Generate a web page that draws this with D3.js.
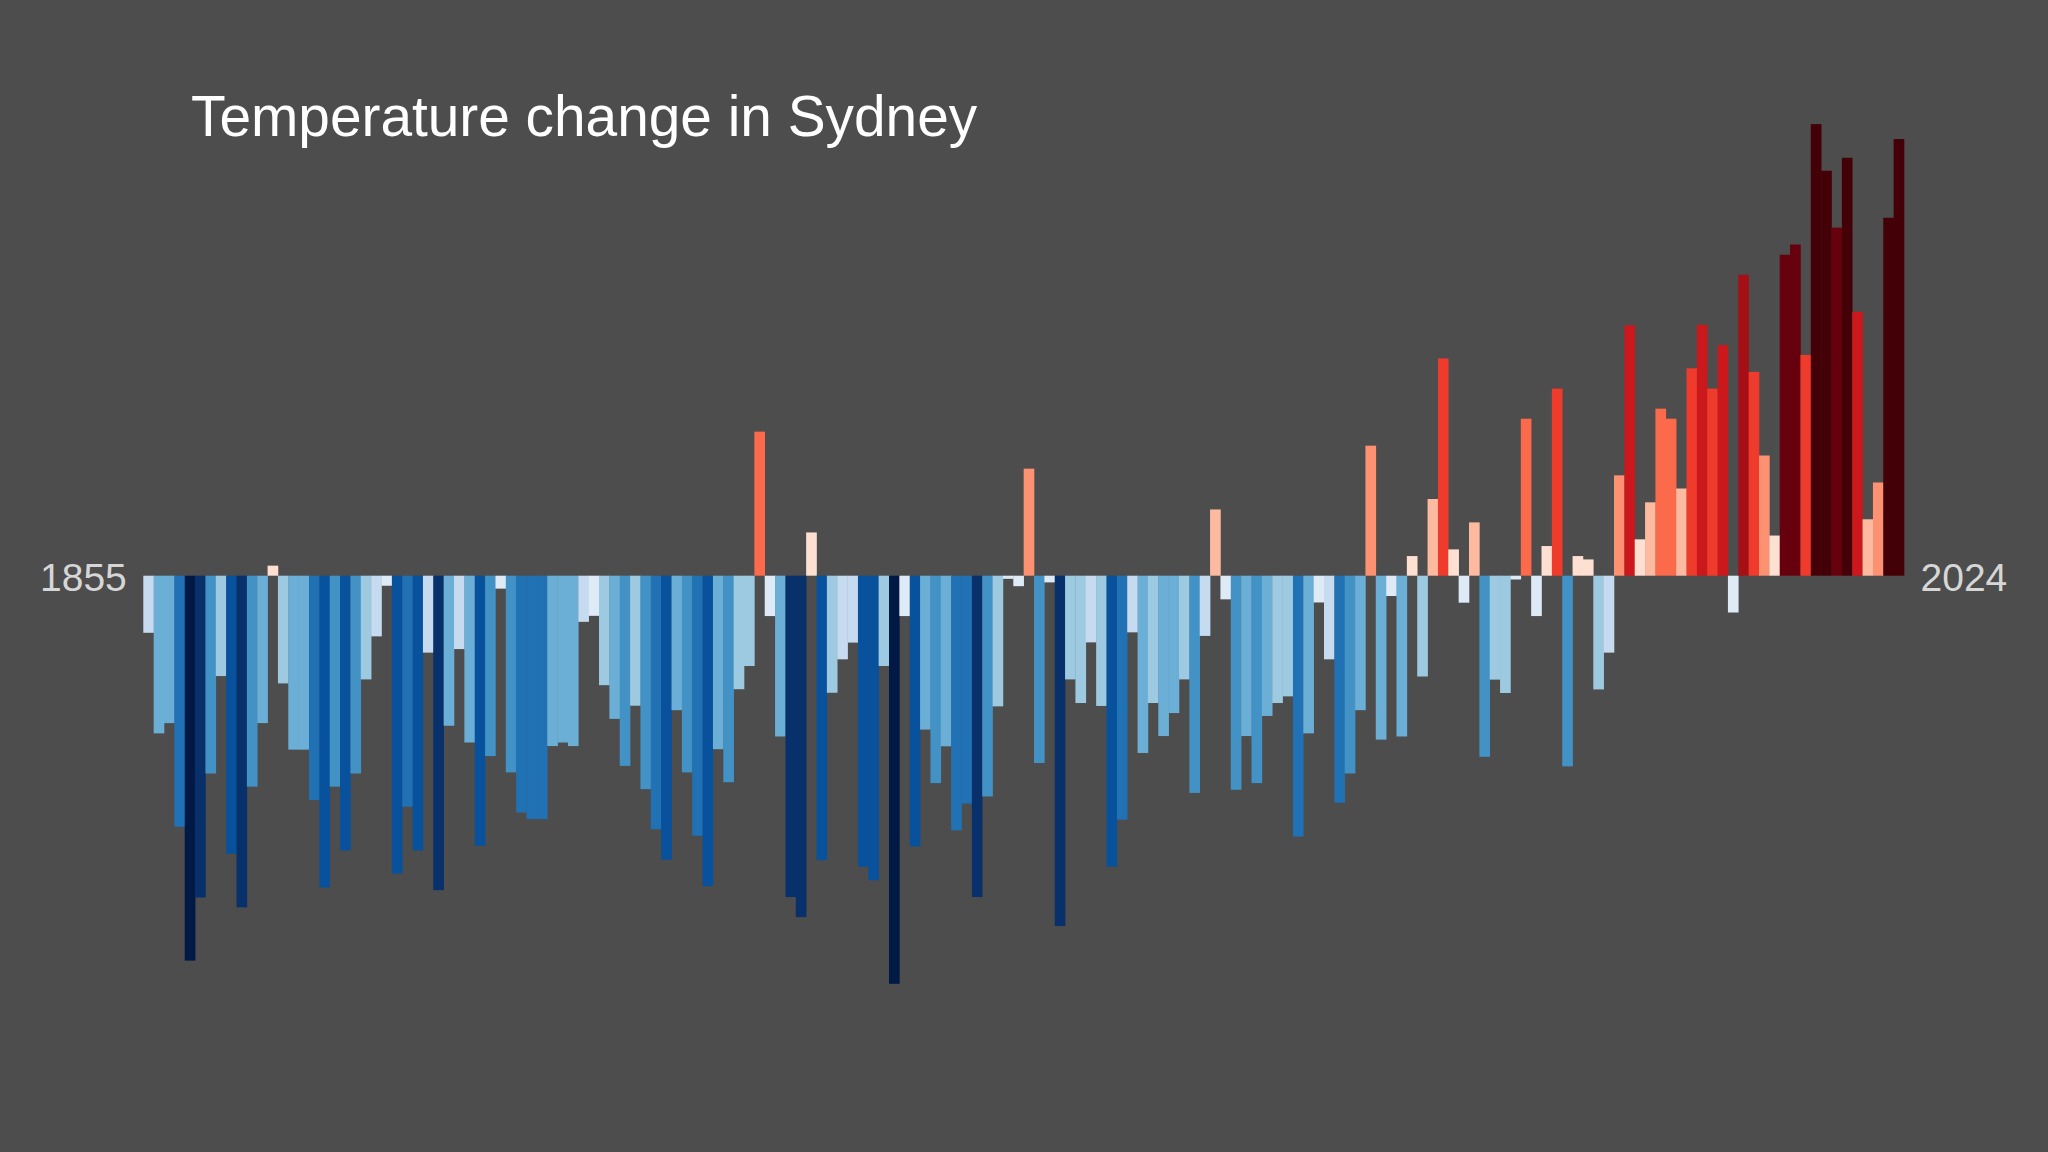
<!DOCTYPE html>
<html>
<head>
<meta charset="utf-8">
<script src="https://cdn.jsdelivr.net/npm/d3@7"></script>
<style>
  html, body { margin: 0; padding: 0; background: #4d4d4d; }
  svg { display: block; }
</style>
</head>
<body>
<svg id="chart" width="2048" height="1152"></svg>
<script>
// ---- data ----
const title = "Temperature change in Sydney";
const firstYear = 1855;
const lastYear = 2024;
// annual temperature anomaly (°C), 1855..2024
const anomalies = [
  -0.256, -0.707, -0.661, -1.126, -1.726, -1.443, -0.887, -0.450, -1.247, -1.487,
  -0.946, -0.661,  0.045, -0.483, -0.780, -0.780, -1.006, -1.398, -0.946, -1.232,
  -0.887, -0.465, -0.272, -0.045, -1.336, -1.036, -1.232, -0.345, -1.410, -0.673,
  -0.329, -0.748, -1.211, -0.809, -0.058, -0.882, -1.062, -1.091, -1.091, -0.764,
  -0.748, -0.764, -0.207, -0.180, -0.491, -0.642, -0.853, -0.583, -0.957, -1.137,
  -1.273, -0.603, -0.882, -1.166, -1.392, -0.778, -0.926, -0.509, -0.405,  0.646,
  -0.181, -0.721, -1.441, -1.531,  0.194, -1.276, -0.525, -0.375, -0.300, -1.305,
  -1.366, -0.405, -1.830, -0.181, -1.214, -0.690, -0.930, -0.765, -1.142, -1.022,
  -1.441, -0.990, -0.586, -0.014, -0.047,  0.480, -0.840, -0.030, -1.571, -0.465,
  -0.571, -0.299, -0.584, -1.305, -1.094, -0.254, -0.795, -0.571, -0.719, -0.616,
  -0.465, -0.974, -0.270,  0.297, -0.106, -0.960, -0.719, -0.930, -0.629, -0.571,
  -0.541, -1.170, -0.707, -0.120, -0.375, -1.018, -0.887, -0.603,  0.583, -0.735,
  -0.091, -0.721,  0.088, -0.452,  0.344,  0.974,  0.118, -0.121,  0.239, -0.812,
  -0.466, -0.526, -0.017,  0.704, -0.181,  0.133,  0.839, -0.855,  0.088,  0.073,
  -0.510, -0.345,  0.450,  1.123,  0.163,  0.329,  0.749,  0.704,  0.391,  0.930,
   1.125,  0.839,  1.034, -0.165,  1.349,  0.914,  0.539,  0.180,  1.439,  1.485,
   0.990,  2.025,  1.816,  1.561,  1.874,  1.183,  0.253,  0.418,  1.605,  1.958
];
const years = d3.range(firstYear, lastYear + 1);
const colorThresholds = [-1.6, -1.4, -1.2, -1.0, -0.8, -0.6, -0.4, -0.2, 0,
                          0.2, 0.4, 0.6, 0.8, 1.0, 1.2, 1.4, 1.6];
const stripeColors = [
  "#011945", "#08306b", "#08519c", "#2171b5", "#4292c6", "#6baed6", "#9ecae1", "#c6dbef", "#deebf7",
  "#fee0d2", "#fcbba1", "#fc9272", "#fb6a4a", "#ef3b2c", "#cb181d", "#a50f15", "#67000d", "#430007"
];

// ---- chart ----
const svg = d3.select("#chart");
svg.append("rect").attr("width", 2048).attr("height", 1152).attr("fill", "#4d4d4d");

const x = d3.scaleBand().domain(years).range([143.3, 1904]).padding(0);
const y = d3.scaleLinear().domain([-2, 2]).range([1021.7, 129.7]);
const color = d3.scaleThreshold().domain(colorThresholds).range(stripeColors);

const data = years.map((yr, i) => ({ year: yr, value: anomalies[i] }));

svg.append("g")
  .selectAll("rect")
  .data(data)
  .join("rect")
  .attr("x", d => x(d.year))
  .attr("width", x.bandwidth() + 0.3)
  .attr("y", d => y(Math.max(0, d.value)))
  .attr("height", d => Math.abs(y(d.value) - y(0)))
  .attr("fill", d => color(d.value));

svg.append("text")
  .attr("x", 191)
  .attr("y", 136)
  .attr("fill", "#ffffff")
  .attr("font-family", "'Liberation Sans', Arial, Helvetica, sans-serif")
  .attr("font-size", 56.8)
  .text(title);

svg.append("text")
  .attr("x", x(firstYear) - 16.5)
  .attr("y", y(0) + 15)
  .attr("text-anchor", "end")
  .attr("fill", "#d6d6d6")
  .attr("font-family", "'Liberation Sans', Arial, Helvetica, sans-serif")
  .attr("font-size", 39)
  .text(String(firstYear));

svg.append("text")
  .attr("x", x(lastYear) + x.bandwidth() + 16.5)
  .attr("y", y(0) + 15)
  .attr("text-anchor", "start")
  .attr("fill", "#d6d6d6")
  .attr("font-family", "'Liberation Sans', Arial, Helvetica, sans-serif")
  .attr("font-size", 39)
  .text(String(lastYear));
</script>
</body>
</html>
